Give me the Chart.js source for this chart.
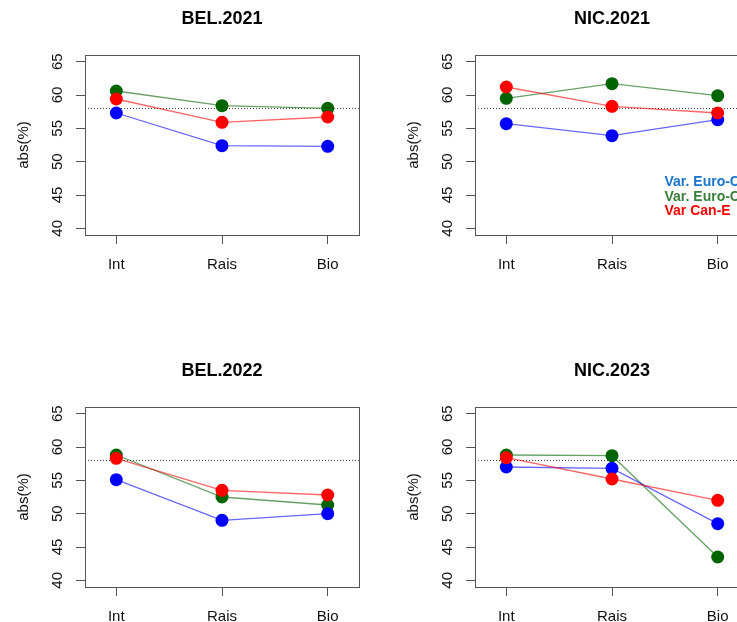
<!DOCTYPE html>
<html><head><meta charset="utf-8">
<script src="https://cdn.jsdelivr.net/npm/chart.js@4/dist/chart.umd.min.js"></script>
<style>
html,body{margin:0;padding:0;background:#fff;overflow:hidden;}
#fig{position:relative;width:737px;height:622px;overflow:hidden;background:#fff;}
#fig canvas{position:absolute;}
</style></head><body>
<div id="fig">
<canvas id="c0" width="400" height="352" style="left:0px;top:0px"></canvas>
<canvas id="c1" width="400" height="352" style="left:390px;top:0px"></canvas>
<canvas id="c2" width="400" height="352" style="left:0px;top:352px"></canvas>
<canvas id="c3" width="400" height="352" style="left:390px;top:352px"></canvas>
</div>
<script>
// ---- data ----
const categories = ['Int', 'Rais', 'Bio'];
const panelTitles = ['BEL.2021', 'NIC.2021', 'BEL.2022', 'NIC.2023'];
const seriesNames = ['Var. Euro-C', 'Var. Euro-C', 'Var Can-E'];
const yTicks = [40, 45, 50, 55, 60, 65];
const refValue = 58;

const bel2021Blue  = [57.3, 52.4, 52.3];
const bel2021Green = [60.6, 58.4, 58.0];
const bel2021Red   = [59.4, 55.9, 56.7];

const nic2021Blue  = [55.7, 53.9, 56.3];
const nic2021Green = [59.5, 61.7, 59.9];
const nic2021Red   = [61.2, 58.3, 57.3];

const bel2022Blue  = [55.1, 49.0, 50.0];
const bel2022Green = [58.8, 52.5, 51.3];
const bel2022Red   = [58.3, 53.5, 52.8];

const nic2023Blue  = [57.0, 56.8, 48.5];
const nic2023Green = [58.8, 58.7, 43.5];
const nic2023Red   = [58.4, 55.2, 52.0];

// ---- styles ----
const FONT = "'Liberation Sans', Arial, Helvetica, sans-serif";
Chart.defaults.font.family = FONT;
const pointColors = ['#0000FF', '#006400', '#FF0000'];
const lineColors = ['rgba(0,0,255,0.6)', 'rgba(0,100,0,0.6)', 'rgba(255,0,0,0.6)'];
const legendColors = ['#1874CD', '#3C7F3C', '#FF0000'];
const drawOrder = [1, 2, 0];
const axisColor = '#555555';

const framePlugin = {
  id: 'rframe',
  beforeDatasetsDraw(chart) {
    const {ctx, chartArea: a, scales: {y}} = chart;
    const py = Math.round(y.getPixelForValue(refValue)) + 0.5;
    ctx.save();
    ctx.strokeStyle = '#444';
    ctx.lineWidth = 1;
    ctx.setLineDash([1, 2]);
    ctx.beginPath();
    ctx.moveTo(a.left, py);
    ctx.lineTo(a.right, py);
    ctx.stroke();
    ctx.restore();
  },
  afterDraw(chart) {
    const {ctx, chartArea: a} = chart;
    ctx.save();
    ctx.strokeStyle = axisColor;
    ctx.lineWidth = 1;
    ctx.strokeRect(Math.round(a.left) + 0.5, Math.round(a.top) + 0.5,
                   Math.round(a.right - a.left), Math.round(a.bottom - a.top));
    ctx.restore();
  }
};

const textLegendPlugin = {
  id: 'textLegend',
  afterDraw(chart) {
    const {ctx} = chart;
    ctx.save();
    ctx.font = "bold 14px " + FONT;
    ctx.textAlign = 'left';
    ctx.textBaseline = 'middle';
    const x0 = 274.5, y0 = 182.5, dy = 14.5;
    chart.data.datasets.forEach((ds, k) => {
      ctx.fillStyle = legendColors[k];
      ctx.fillText(ds.label, x0, y0 + k * dy);
    });
    ctx.restore();
  }
};

function makePanel(canvasId, idx, blue, green, red, withLegend) {
  const series = [blue, green, red];
  const tickFont = {family: FONT, size: 15};
  new Chart(document.getElementById(canvasId), {
    type: 'line',
    data: {
      datasets: series.map((vals, k) => ({
        label: seriesNames[k],
        data: vals.map((v, i) => ({x: i + 1, y: v})),
        borderColor: lineColors[k],
        backgroundColor: pointColors[k],
        pointBackgroundColor: pointColors[k],
        pointBorderWidth: 0,
        pointBorderColor: pointColors[k],
        pointRadius: 6.5,
        borderWidth: 1.3,
        tension: 0,
        order: drawOrder[k],
        clip: false
      }))
    },
    options: {
      responsive: false,
      animation: false,
      events: [],
      layout: {padding: {left: 0, right: 41, top: 0, bottom: 0}},
      plugins: {
        legend: {display: false},
        tooltip: {enabled: false},
        title: {
          display: true,
          text: panelTitles[idx],
          fullSize: false,
          color: '#000',
          font: {family: FONT, size: 18, weight: 'bold'},
          padding: {top: 8, bottom: 25.4}
        }
      },
      scales: {
        x: {
          type: 'linear',
          min: 0.704,
          max: 3.296,
          afterBuildTicks: s => { s.ticks = categories.map((c, i) => ({value: i + 1})); },
          afterFit: s => { s.height = 117; },
          ticks: {
            callback: v => categories[Math.round(v) - 1],
            font: tickFont, color: '#111', padding: 12,
            maxRotation: 0, minRotation: 0, autoSkip: false
          },
          grid: {display: true, drawOnChartArea: false, drawTicks: true, tickLength: 9, color: axisColor, lineWidth: 1},
          border: {display: false}
        },
        y: {
          type: 'linear',
          min: 39,
          max: 66,
          afterBuildTicks: s => { s.ticks = yTicks.map(v => ({value: v})); },
          afterFit: s => { s.width = 85; },
          ticks: {
            minRotation: 90, maxRotation: 90, crossAlign: 'center',
            padding: 10, font: tickFont, color: '#111', autoSkip: false
          },
          grid: {display: true, drawOnChartArea: false, drawTicks: true, tickLength: 9, color: axisColor, lineWidth: 1},
          border: {display: false},
          title: {display: true, text: 'abs(%)', font: tickFont, color: '#111', padding: {top: 15, bottom: 0}}
        }
      }
    },
    plugins: withLegend ? [framePlugin, textLegendPlugin] : [framePlugin]
  });
}

makePanel('c0', 0, bel2021Blue, bel2021Green, bel2021Red, false);
makePanel('c1', 1, nic2021Blue, nic2021Green, nic2021Red, true);
makePanel('c2', 2, bel2022Blue, bel2022Green, bel2022Red, false);
makePanel('c3', 3, nic2023Blue, nic2023Green, nic2023Red, false);
</script>
</body></html>
